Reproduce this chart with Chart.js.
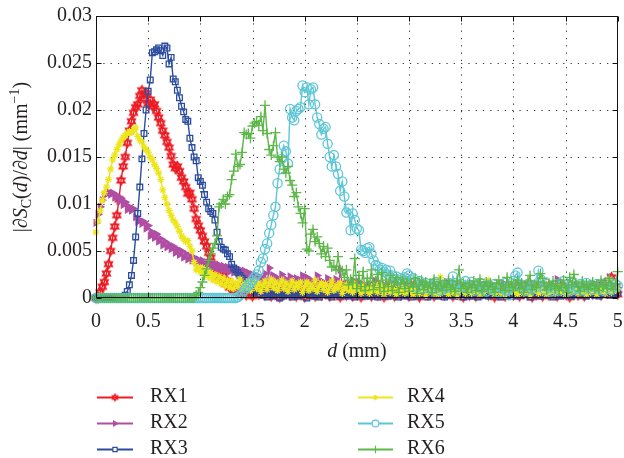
<!DOCTYPE html>
<html>
<head>
<meta charset="utf-8">
<script src="https://cdn.jsdelivr.net/npm/chart.js@4/dist/chart.umd.min.js"></script>
<style>
html,body{margin:0;padding:0;background:#fff;}
#wrap{width:624px;height:458px;position:relative;}
</style>
</head>
<body>
<div id="wrap"><canvas id="c" width="624" height="458"></canvas></div>
<script>
// ---- data (d sampled every 0.02 mm, 0..5) ----
const seriesNames = ['RX1', 'RX2', 'RX3', 'RX4', 'RX5', 'RX6'];
const xTickLabels = ['0', '0.5', '1', '1.5', '2', '2.5', '3', '3.5', '4', '4.5', '5'];
const yTickLabels = ['0', '0.005', '0.01', '0.015', '0.02', '0.025', '0.03'];
const dGrid = Array.from({length: 251}, (_, i) => i * 2 / 100);

const rx1 = [
0, 0, 0.0006, 0.0012, 0.0017, 0.0026, 0.0036, 0.0050, 0.0064, 0.0076,
0.0088, 0.0105, 0.0125, 0.0140, 0.0150, 0.0165, 0.0178, 0.0188, 0.0197, 0.0203,
0.0206, 0.0215, 0.0221, 0.0212, 0.0218, 0.0207, 0.0211, 0.0204, 0.0206, 0.0199,
0.0192, 0.0186, 0.0178, 0.0173, 0.0166, 0.0160, 0.0151, 0.0142, 0.0138, 0.0140,
0.0135, 0.0128, 0.0124, 0.0118, 0.0111, 0.0112, 0.0105, 0.0095, 0.0084, 0.0077,
0.0072, 0.0066, 0.0060, 0.0055, 0.0048, 0.0043, 0.0036, 0.0031, 0.0027, 0.0022,
0.0019, 0.0024, 0.0015, 0.0018, 0.0011, 0.0014, 0.0008, 0.0012, 0.0006, 0.0010,
0.0004, 0.0009, 0.0003, 0.0011, 0.0005, 0.0002, 0.0008, 0.0012, 0.0004, 0.0007,
0.0010, 0.0003, 0.0006, 0.0013, 0.0002, 0.0008, 0.0005, 0.0011, 0.0001, 0.0007,
0.0004, 0.0009, 0.0014, 0.0003, 0.0006, 0.0010, 0.0002, 0.0008, 0.0012, 0.0005,
0.0001, 0.0007, 0.0011, 0.0004, 0.0009, 0.0002, 0.0013, 0.0006, 0.0003, 0.0010,
0.0005, 0.0012, 0.0002, 0.0008, 0.0004, 0.0011, 0.0006, 0.0001, 0.0009, 0.0014,
0.0003, 0.0007, 0.0010, 0.0002, 0.0012, 0.0005, 0.0008, 0.0001, 0.0006, 0.0011,
0.0004, 0.0009, 0.0002, 0.0013, 0.0006, 0.0003, 0.0010, 0.0007, 0.0001, 0.0008,
0.0012, 0.0004, 0.0006, 0.0002, 0.0009, 0.0011, 0.0003, 0.0007, 0.0005, 0.0010,
0.0002, 0.0008, 0.0013, 0.0004, 0.0006, 0.0001, 0.0009, 0.0005, 0.0011, 0.0003,
0.0007, 0.0010, 0.0002, 0.0006, 0.0012, 0.0004, 0.0008, 0.0003, 0.0009, 0.0005,
0.0011, 0.0002, 0.0007, 0.0004, 0.0010, 0.0006, 0.0001, 0.0008, 0.0013, 0.0003,
0.0005, 0.0009, 0.0002, 0.0011, 0.0006, 0.0004, 0.0008, 0.0012, 0.0003, 0.0007,
0.0010, 0.0001, 0.0006, 0.0009, 0.0004, 0.0012, 0.0002, 0.0007, 0.0005, 0.0011,
0.0003, 0.0008, 0.0006, 0.0002, 0.0010, 0.0005, 0.0013, 0.0004, 0.0007, 0.0001,
0.0009, 0.0004, 0.0011, 0.0006, 0.0002, 0.0008, 0.0012, 0.0003, 0.0010, 0.0005,
0.0007, 0.0002, 0.0009, 0.0014, 0.0004, 0.0006, 0.0011, 0.0001, 0.0008, 0.0005,
0.0010, 0.0003, 0.0007, 0.0012, 0.0002, 0.0009, 0.0005, 0.0011, 0.0004, 0.0008,
0.0006, 0.0013, 0.0003, 0.0009, 0.0016, 0.0005, 0.0010, 0.0022, 0.0007, 0.0012,
0.0004];

const rx2 = [
0.0080, 0.0089, 0.0097, 0.0104, 0.0109, 0.0112, 0.0113, 0.0110, 0.0112, 0.0107,
0.0109, 0.0103, 0.0106, 0.0099, 0.0102, 0.0094, 0.0097, 0.0093, 0.0095, 0.0086,
0.0081, 0.0083, 0.0079, 0.0081, 0.0074, 0.0077, 0.0066, 0.0070, 0.0064, 0.0068,
0.0060, 0.0063, 0.0056, 0.0060, 0.0054, 0.0057, 0.0052, 0.0055, 0.0048, 0.0052,
0.0046, 0.0050, 0.0043, 0.0047, 0.0041, 0.0045, 0.0040, 0.0043, 0.0038, 0.0041,
0.0037, 0.0040, 0.0035, 0.0038, 0.0034, 0.0037, 0.0032, 0.0036, 0.0031, 0.0035,
0.0030, 0.0034, 0.0029, 0.0033, 0.0028, 0.0032, 0.0027, 0.0031, 0.0026, 0.0030,
0.0025, 0.0029, 0.0022, 0.0027, 0.0020, 0.0025, 0.0018, 0.0024, 0.0016, 0.0022,
0.0019, 0.0026, 0.0015, 0.0032, 0.0018, 0.0024, 0.0013, 0.0021, 0.0017, 0.0025,
0.0012, 0.0020, 0.0016, 0.0023, 0.0010, 0.0018, 0.0021, 0.0014, 0.0019, 0.0024,
0.0017, 0.0022, 0.0013, 0.0019, 0.0010, 0.0016, 0.0024, 0.0012, 0.0018, 0.0009,
0.0015, 0.0021, 0.0011, 0.0017, 0.0013, 0.0020, 0.0008, 0.0030, 0.0014, 0.0010,
0.0016, 0.0008, 0.0013, 0.0019, 0.0007, 0.0012, 0.0017, 0.0010, 0.0014, 0.0006,
0.0011, 0.0015, 0.0008, 0.0013, 0.0018, 0.0009, 0.0012, 0.0006, 0.0014, 0.0010,
0.0007, 0.0013, 0.0009, 0.0016, 0.0011, 0.0006, 0.0012, 0.0008, 0.0015, 0.0010,
0.0013, 0.0007, 0.0011, 0.0005, 0.0014, 0.0009, 0.0016, 0.0008, 0.0012, 0.0006,
0.0010, 0.0015, 0.0007, 0.0012, 0.0009, 0.0013, 0.0006, 0.0011, 0.0017, 0.0008,
0.0012, 0.0006, 0.0010, 0.0014, 0.0008, 0.0011, 0.0005, 0.0013, 0.0009, 0.0007,
0.0011, 0.0015, 0.0008, 0.0012, 0.0006, 0.0010, 0.0014, 0.0009, 0.0007, 0.0012,
0.0008, 0.0013, 0.0010, 0.0006, 0.0011, 0.0016, 0.0009, 0.0012, 0.0007, 0.0010,
0.0013, 0.0008, 0.0011, 0.0006, 0.0014, 0.0009, 0.0012, 0.0007, 0.0010, 0.0015,
0.0009, 0.0012, 0.0006, 0.0010, 0.0013, 0.0008, 0.0011, 0.0005, 0.0014, 0.0009,
0.0012, 0.0020, 0.0008, 0.0011, 0.0007, 0.0013, 0.0009, 0.0012, 0.0006, 0.0010,
0.0014, 0.0008, 0.0011, 0.0007, 0.0012, 0.0009, 0.0013, 0.0006, 0.0010, 0.0015,
0.0009, 0.0012, 0.0007, 0.0011, 0.0014, 0.0008, 0.0022, 0.0010, 0.0013, 0.0009,
0.0011];

const rx3 = [
0, 0, 0, 0, 0, 0, 0, 0, 0, 0,
0, 0, 0, 0, 0.0003, 0.0007, 0.0014, 0.0024, 0.0040, 0.0065,
0.0090, 0.0118, 0.0148, 0.0175, 0.0200, 0.0220, 0.0232, 0.0261, 0.0262, 0.0264,
0.0266, 0.0263, 0.0258, 0.0268, 0.0266, 0.0249, 0.0256, 0.0233, 0.0230, 0.0221,
0.0213, 0.0204, 0.0198, 0.0190, 0.0188, 0.0170, 0.0160, 0.0150, 0.0146, 0.0128,
0.0124, 0.0120, 0.0110, 0.0102, 0.0095, 0.0092, 0.0090, 0.0083, 0.0070, 0.0060,
0.0054, 0.0052, 0.0051, 0.0047, 0.0044, 0.0036, 0.0032, 0.0030, 0.0027, 0.0024,
0.0021, 0.0019, 0.0016, 0.0013, 0.0011, 0.0009, 0.0006, 0.0008, 0.0004, 0.0007,
0.0003, 0.0006, 0.0001, 0.0005, 0.0008, 0.0002, 0.0004, 0.0007, 0, 0.0005,
0.0002, 0.0006, 0.0004, 0.0009, 0.0001, 0.0003, 0.0007, 0.0002, 0.0005, 0.0008,
0.0004, 0, 0.0006, 0.0003, 0.0008, 0.0002, 0.0005, 0.0001, 0.0007, 0.0004,
0.0009, 0.0003, 0.0005, 0.0001, 0.0006, 0.0004, 0.0008, 0.0002, 0.0005, 0.0003,
0.0006, 0.0002, 0.0008, 0.0004, 0.0001, 0.0007, 0.0003, 0.0005, 0.0009, 0.0002,
0.0005, 0.0007, 0.0002, 0.0004, 0.0008, 0.0001, 0.0006, 0.0003, 0.0005, 0.0007,
0.0002, 0.0005, 0.0009, 0.0003, 0.0006, 0.0001, 0.0004, 0.0008, 0.0002, 0.0006,
0.0004, 0.0001, 0.0007, 0.0005, 0.0002, 0.0008, 0.0003, 0.0006, 0.0004, 0.0001,
0.0007, 0.0003, 0.0005, 0.0009, 0.0002, 0.0004, 0.0006, 0.0001, 0.0008, 0.0003,
0.0005, 0.0008, 0.0002, 0.0006, 0.0004, 0.0007, 0.0001, 0.0005, 0.0003, 0.0009,
0.0002, 0.0006, 0.0004, 0.0001, 0.0007, 0.0003, 0.0008, 0.0005, 0.0002, 0.0006,
0.0004, 0.0009, 0.0003, 0.0006, 0.0001, 0.0005, 0.0007, 0.0002, 0.0008, 0.0004,
0.0006, 0.0002, 0.0005, 0.0008, 0.0003, 0.0010, 0.0004, 0.0006, 0.0001, 0.0007,
0.0003, 0.0008, 0.0005, 0.0002, 0.0006, 0.0004, 0.0009, 0.0003, 0.0005, 0.0001,
0.0007, 0.0004, 0.0002, 0.0008, 0.0005, 0.0003, 0.0006, 0.0010, 0.0002, 0.0005,
0.0004, 0.0007, 0.0003, 0.0006, 0.0009, 0.0002, 0.0005, 0.0004, 0.0008, 0.0003,
0.0006, 0.0002, 0.0009, 0.0004, 0.0007, 0.0011, 0.0003, 0.0006, 0.0004, 0.0008,
0.0005];

const rx4 = [
0.0070, 0.0082, 0.0093, 0.0104, 0.0112, 0.0118, 0.0126, 0.0137, 0.0147, 0.0152,
0.0158, 0.0163, 0.0167, 0.0171, 0.0173, 0.0175, 0.0177, 0.0176, 0.0179, 0.0181,
0.0172, 0.0168, 0.0166, 0.0161, 0.0158, 0.0155, 0.0150, 0.0147, 0.0142, 0.0138,
0.0133, 0.0126, 0.0115, 0.0107, 0.0100, 0.0093, 0.0088, 0.0083, 0.0080, 0.0076,
0.0071, 0.0066, 0.0063, 0.0060, 0.0061, 0.0055, 0.0050, 0.0038, 0.0030, 0.0033,
0.0028, 0.0032, 0.0025, 0.0030, 0.0022, 0.0027, 0.0019, 0.0025, 0.0017, 0.0023,
0.0015, 0.0021, 0.0013, 0.0019, 0.0011, 0.0018, 0.0010, 0.0016, 0.0012, 0.0020,
0.0009, 0.0015, 0.0011, 0.0018, 0.0008, 0.0014, 0.0019, 0.0010, 0.0016, 0.0007,
0.0013, 0.0018, 0.0009, 0.0015, 0.0020, 0.0011, 0.0017, 0.0008, 0.0014, 0.0019,
0.0010, 0.0016, 0.0007, 0.0013, 0.0018, 0.0009, 0.0015, 0.0011, 0.0017, 0.0006,
0.0012, 0.0017, 0.0008, 0.0014, 0.0010, 0.0019, 0.0007, 0.0013, 0.0016, 0.0009,
0.0015, 0.0006, 0.0012, 0.0018, 0.0008, 0.0013, 0.0010, 0.0016, 0.0005, 0.0011,
0.0014, 0.0008, 0.0012, 0.0006, 0.0015, 0.0009, 0.0011, 0.0005, 0.0013, 0.0008,
0.0010, 0.0005, 0.0012, 0.0008, 0.0014, 0.0006, 0.0010, 0.0013, 0.0004, 0.0009,
0.0011, 0.0006, 0.0013, 0.0008, 0.0004, 0.0010, 0.0007, 0.0012, 0.0005, 0.0009,
0.0006, 0.0011, 0.0004, 0.0009, 0.0013, 0.0005, 0.0008, 0.0011, 0.0003, 0.0010,
0.0007, 0.0012, 0.0005, 0.0009, 0.0004, 0.0022, 0.0006, 0.0013, 0.0008, 0.0004,
0.0010, 0.0006, 0.0012, 0.0003, 0.0009, 0.0007, 0.0011, 0.0005, 0.0014, 0.0008,
0.0005, 0.0010, 0.0007, 0.0013, 0.0004, 0.0009, 0.0006, 0.0011, 0.0019, 0.0007,
0.0010, 0.0004, 0.0008, 0.0012, 0.0005, 0.0009, 0.0003, 0.0011, 0.0007, 0.0013,
0.0006, 0.0010, 0.0004, 0.0008, 0.0012, 0.0005, 0.0009, 0.0007, 0.0003, 0.0011,
0.0008, 0.0013, 0.0005, 0.0009, 0.0006, 0.0011, 0.0004, 0.0010, 0.0007, 0.0012,
0.0005, 0.0009, 0.0013, 0.0006, 0.0010, 0.0004, 0.0008, 0.0011, 0.0006, 0.0009,
0.0012, 0.0005, 0.0010, 0.0007, 0.0013, 0.0004, 0.0009, 0.0006, 0.0011, 0.0008,
0.0004, 0.0010, 0.0007, 0.0012, 0.0005, 0.0009, 0.0020, 0.0006, 0.0011, 0.0008,
0.0010];

const rx5 = [
0, 0, 0, 0, 0, 0, 0, 0, 0, 0,
0, 0, 0, 0, 0, 0, 0, 0, 0, 0,
0, 0, 0, 0, 0, 0, 0, 0, 0, 0,
0, 0, 0, 0, 0, 0, 0, 0, 0, 0,
0, 0, 0, 0, 0, 0, 0, 0, 0, 0,
0, 0, 0, 0, 0, 0, 0, 0, 0, 0,
0, 0, 0, 0, 0, 0, 0, 0, 0.0001, 0.0003,
0.0005, 0.0008, 0.0011, 0.0013, 0.0016, 0.0019, 0.0022, 0.0025, 0.0029, 0.0038,
0.0042, 0.0052, 0.0058, 0.0069, 0.0078, 0.0088, 0.0097, 0.0122, 0.0137, 0.0148,
0.0162, 0.0156, 0.0143, 0.0201, 0.0192, 0.0189, 0.0199, 0.0201, 0.0203, 0.0226,
0.0219, 0.0224, 0.0206, 0.0222, 0.0224, 0.0206, 0.0192, 0.0185, 0.0174, 0.0180,
0.0182, 0.0164, 0.0150, 0.0140, 0.0152, 0.0140, 0.0132, 0.0114, 0.0124, 0.0108,
0.0091, 0.0095, 0.0072, 0.0090, 0.0083, 0.0074, 0.0072, 0.0051, 0.0050, 0.0048,
0.0053, 0.0054, 0.0047, 0.0040, 0.0035, 0.0034, 0.0030, 0.0032, 0.0028, 0.0030,
0.0025, 0.0029, 0.0024, 0.0020, 0.0023, 0.0019, 0.0021, 0.0017, 0.0022, 0.0026,
0.0024, 0.0019, 0.0021, 0.0016, 0.0012, 0.0018, 0.0014, 0.0010, 0.0016, 0.0012,
0.0015, 0.0009, 0.0013, 0.0017, 0.0011, 0.0008, 0.0014, 0.0010, 0.0012, 0.0016,
0.0011, 0.0023, 0.0016, 0.0013, 0.0009, 0.0015, 0.0012, 0.0018, 0.0010, 0.0014,
0.0017, 0.0011, 0.0008, 0.0013, 0.0016, 0.0010, 0.0012, 0.0007, 0.0014, 0.0011,
0.0009, 0.0015, 0.0012, 0.0006, 0.0013, 0.0010, 0.0016, 0.0008, 0.0003, 0.0011,
0.0018, 0.0024, 0.0027, 0.0014, 0.0010, 0.0013, 0.0008, 0.0015, 0.0011, 0.0009,
0.0014, 0.0012, 0.0029, 0.0020, 0.0013, 0.0009, 0.0015, 0.0011, 0.0007, 0.0013,
0.0010, 0.0015, 0.0008, 0.0014, 0.0018, 0.0011, 0.0007, 0.0012, 0.0016, 0.0009,
0.0013, 0.0010, 0.0015, 0.0008, 0.0012, 0.0016, 0.0011, 0.0014, 0.0009, 0.0012,
0.0015, 0.0010, 0.0013, 0.0008, 0.0016, 0.0011, 0.0014, 0.0009, 0.0012, 0.0015,
0.0013];

const rx6 = [
0, 0, 0, 0, 0, 0, 0, 0, 0, 0,
0, 0, 0, 0, 0, 0, 0, 0, 0, 0,
0, 0, 0, 0, 0, 0, 0, 0, 0, 0,
0, 0, 0, 0, 0, 0, 0, 0, 0, 0,
0, 0, 0, 0, 0, 0, 0, 0, 0.0003, 0.0006,
0.0011, 0.0017, 0.0024, 0.0031, 0.0040, 0.0047, 0.0053, 0.0058, 0.0066, 0.0097,
0.0100, 0.0105, 0.0100, 0.0108, 0.0110, 0.0126, 0.0135, 0.0153, 0.0140, 0.0142,
0.0155, 0.0176, 0.0174, 0.0175, 0.0170, 0.0183, 0.0186, 0.0188, 0.0184, 0.0193,
0.0178, 0.0205, 0.0175, 0.0158, 0.0152, 0.0162, 0.0176, 0.0150, 0.0145, 0.0150,
0.0137, 0.0133, 0.0140, 0.0125, 0.0120, 0.0108, 0.0112, 0.0097, 0.0090, 0.0080,
0.0095, 0.0052, 0.0050, 0.0068, 0.0073, 0.0060, 0.0065, 0.0058, 0.0047, 0.0055,
0.0044, 0.0053, 0.0040, 0.0033, 0.0034, 0.0030, 0.0044, 0.0030, 0.0029, 0.0022,
0.0030, 0.0014, 0.0020, 0.0016, 0.0042, 0.0010, 0.0024, 0.0012, 0.0028, 0.0008,
0.0021, 0.0013, 0.0030, 0.0009, 0.0018, 0.0025, 0.0011, 0.0027, 0.0007, 0.0019,
0.0012, 0.0024, 0.0008, 0.0017, 0.0022, 0.0006, 0.0015, 0.0020, 0.0010, 0.0018,
0.0007, 0.0016, 0.0012, 0.0021, 0.0005, 0.0014, 0.0019, 0.0009, 0.0017, 0.0011,
0.0015, 0.0006, 0.0020, 0.0010, 0.0013, 0.0018, 0.0008, 0.0016, 0.0011, 0.0019,
0.0009, 0.0014, 0.0007, 0.0018, 0.0030, 0.0010, 0.0016, 0.0012, 0.0006, 0.0015,
0.0011, 0.0018, 0.0008, 0.0014, 0.0020, 0.0007, 0.0013, 0.0017, 0.0009, 0.0016,
0.0012, 0.0006, 0.0015, 0.0019, 0.0010, 0.0014, 0.0008, 0.0022, 0.0011, 0.0017,
0.0008, 0.0015, 0.0019, 0.0010, 0.0016, 0.0006, 0.0013, 0.0018, 0.0024, 0.0009,
0.0014, 0.0011, 0.0017, 0.0026, 0.0021, 0.0013, 0.0009, 0.0016, 0.0012, 0.0018,
0.0010, 0.0015, 0.0008, 0.0013, 0.0019, 0.0011, 0.0006, 0.0022, 0.0014, 0.0025,
0.0016, 0.0012, 0.0007, 0.0018, 0.0011, 0.0015, 0.0009, 0.0013, 0.0017, 0.0010,
0.0014, 0.0008, 0.0019, 0.0012, 0.0016, 0.0010, 0.0021, 0.0013, 0.0009, 0.0015,
0.0028];

// ---- styles ----
const TXT = '#231f20';
const FONT = '"Liberation Serif", "Times New Roman", serif';
const colors = ['#ec1c24', '#b04ea4', '#2b4c9f', '#ede61c', '#5dc6d6', '#5db749'];

function hexagram(color, r, lw) {
  const s = Math.ceil(2 * r + 3);
  const c = document.createElement('canvas');
  c.width = s; c.height = s;
  const g = c.getContext('2d');
  g.strokeStyle = color; g.lineWidth = lw; g.lineJoin = 'miter';
  const cx = s / 2, cy = s / 2;
  [-Math.PI / 2, Math.PI / 2].forEach(rot => {
    g.beginPath();
    for (let k = 0; k < 3; k++) {
      const a = rot + k * 2 * Math.PI / 3;
      const px = cx + r * Math.cos(a), py = cy + r * Math.sin(a);
      if (k) g.lineTo(px, py); else g.moveTo(px, py);
    }
    g.closePath();
    g.stroke();
  });
  return c;
}
const starImg = hexagram(colors[0], 4.6, 1.4);
const starImgSmall = hexagram(colors[0], 3.2, 1.3);

const pointCfg = [
  {pointStyle: starImg, radius: 4.5, rotation: 0, fill: false},
  {pointStyle: 'triangle', radius: 3.6, rotation: 90, fill: true},
  {pointStyle: 'rect', radius: 4.0, rotation: 0, fill: false},
  {pointStyle: 'star', radius: 3.6, rotation: 0, fill: false},
  {pointStyle: 'circle', radius: 4.6, rotation: 0, fill: false},
  {pointStyle: 'cross', radius: 5.0, rotation: 0, fill: false}
];
const allSeries = [rx1, rx2, rx3, rx4, rx5, rx6];

const datasets = allSeries.map((vals, k) => ({
  label: seriesNames[k],
  data: vals.map((v, i) => ({x: dGrid[i], y: v})),
  borderColor: colors[k],
  backgroundColor: colors[k],
  borderWidth: 1.4,
  pointStyle: pointCfg[k].pointStyle,
  pointRadius: pointCfg[k].radius,
  pointRotation: pointCfg[k].rotation,
  pointBorderColor: colors[k],
  pointBackgroundColor: pointCfg[k].fill ? colors[k] : 'rgba(0,0,0,0)',
  pointBorderWidth: 1.3,
  tension: 0,
  clip: 8,
  order: 5 - k
}));

// ---- decorations: grid, frame, titles, legend ----
function drawRuns(ctx, runs, size) {
  let w = 0;
  const items = runs.map(r => {
    const fs = (r.sub || r.sup) ? Math.round(size * 0.7) : size;
    const f = (r.i ? 'italic ' : '') + fs + 'px ' + FONT;
    ctx.font = f;
    const wd = ctx.measureText(r.t).width;
    const it = {t: r.t, f, x: w, dy: r.sub ? size * 0.28 : (r.sup ? -size * 0.35 : 0)};
    w += wd;
    return it;
  });
  items.forEach(it => {
    ctx.font = it.f;
    ctx.fillText(it.t, it.x - w / 2, it.dy);
  });
}

const deco = {
  id: 'deco',
  beforeDatasetsDraw(chart) {
    const {ctx, chartArea: a, scales: {x, y}} = chart;
    ctx.save();
    ctx.strokeStyle = '#3a3a3a';
    ctx.lineWidth = 1;
    ctx.setLineDash([1.3, 6]);
    x.ticks.forEach(t => {
      const px = Math.round(x.getPixelForValue(t.value)) + 0.5;
      if (px <= a.left + 1 || px >= a.right - 1) return;
      ctx.beginPath(); ctx.moveTo(px, a.top); ctx.lineTo(px, a.bottom); ctx.stroke();
    });
    y.ticks.forEach(t => {
      const py = Math.round(y.getPixelForValue(t.value)) + 0.5;
      if (py <= a.top + 1 || py >= a.bottom - 1) return;
      ctx.beginPath(); ctx.moveTo(a.left, py); ctx.lineTo(a.right, py); ctx.stroke();
    });
    ctx.restore();
  },
  afterDatasetsDraw(chart) {
    const {ctx, chartArea: a, scales: {x, y}} = chart;
    ctx.save();
    ctx.strokeStyle = '#111';
    ctx.lineWidth = 1;
    const L = Math.round(a.left) + 0.5, R = Math.round(a.right) - 0.5;
    const T = Math.round(a.top) + 0.5, B = Math.round(a.bottom) - 0.5;
    ctx.strokeRect(L, T, R - L, B - T);
    const tl = 5;
    ctx.beginPath();
    x.ticks.forEach(t => {
      const px = Math.round(x.getPixelForValue(t.value)) + 0.5;
      ctx.moveTo(px, B); ctx.lineTo(px, B - tl);
      ctx.moveTo(px, T); ctx.lineTo(px, T + tl);
    });
    y.ticks.forEach(t => {
      const py = Math.round(y.getPixelForValue(t.value)) + 0.5;
      ctx.moveTo(L, py); ctx.lineTo(L + tl, py);
      ctx.moveTo(R, py); ctx.lineTo(R - tl, py);
    });
    ctx.stroke();
    ctx.restore();
  },
  afterDraw(chart) {
    const {ctx, chartArea: a} = chart;
    ctx.save();
    ctx.fillStyle = TXT;
    ctx.textBaseline = 'middle';
    ctx.textAlign = 'left';
    // x title
    ctx.save();
    ctx.translate((a.left + a.right) / 2, 352);
    drawRuns(ctx, [{t: 'd', i: 1}, {t: ' (mm)'}], 20);
    ctx.restore();
    // y title
    ctx.save();
    ctx.translate(22, (a.top + a.bottom) / 2);
    ctx.rotate(-Math.PI / 2);
    drawRuns(ctx, [
      {t: '|∂'}, {t: 'S', i: 1}, {t: 'C', sub: 1}, {t: '('}, {t: 'd', i: 1},
      {t: ')/∂'}, {t: 'd', i: 1}, {t: '| (mm'}, {t: '−1', sup: 1}, {t: ')'}
    ], 20);
    ctx.restore();
    // legend (two columns)
    const cols = [{x0: 97, x1: 133, tx: 150}, {x0: 358, x1: 393, tx: 407}];
    const rows = [397, 423, 449];
    seriesNames.forEach((name, k) => {
      const col = cols[Math.floor(k / 3)], yy = rows[k % 3];
      ctx.strokeStyle = colors[k];
      ctx.lineWidth = 2;
      ctx.beginPath(); ctx.moveTo(col.x0, yy + 0.5); ctx.lineTo(col.x1, yy + 0.5); ctx.stroke();
      const cx = (col.x0 + col.x1) / 2;
      if (k === 0) {
        ctx.drawImage(starImgSmall, cx - starImgSmall.width / 2, yy + 0.5 - starImgSmall.height / 2);
      } else if (Chart.helpers && Chart.helpers.drawPoint) {
        ctx.fillStyle = pointCfg[k].fill ? colors[k] : '#fff';
        ctx.strokeStyle = colors[k];
        ctx.lineWidth = 1.2;
        Chart.helpers.drawPoint(ctx, {pointStyle: pointCfg[k].pointStyle, rotation: pointCfg[k].rotation,
          radius: pointCfg[k].radius * 0.75, borderWidth: 1.2}, cx, yy + 0.5);
      }
      ctx.fillStyle = TXT;
      ctx.font = '20px ' + FONT;
      ctx.fillText(name, col.tx, yy);
    });
    ctx.restore();
  }
};

new Chart(document.getElementById('c'), {
  type: 'line',
  data: {datasets},
  options: {
    responsive: false,
    animation: false,
    events: [],
    layout: {padding: {top: 16, left: 0, right: 5, bottom: 0}},
    plugins: {legend: {display: false}, tooltip: {enabled: false}, title: {display: false}},
    scales: {
      x: {
        type: 'linear', min: 0, max: 5,
        grid: {display: false, drawTicks: false},
        border: {display: false},
        ticks: {stepSize: 0.5, padding: 12, color: TXT, font: {family: FONT, size: 20},
          maxRotation: 0, autoSkip: false,
          callback: (v, i) => xTickLabels[i]},
        afterFit: s => { s.height = 160; s.paddingRight = 0; s.paddingLeft = 0; }
      },
      y: {
        type: 'linear', min: 0, max: 0.03,
        grid: {display: false, drawTicks: false},
        border: {display: false},
        ticks: {stepSize: 0.005, padding: 4, color: TXT, font: {family: FONT, size: 20},
          autoSkip: false,
          callback: (v, i) => yTickLabels[i]},
        afterFit: s => { s.width = 96; s.paddingTop = 0; s.paddingBottom = 0; }
      }
    }
  },
  plugins: [deco]
});
</script>
</body>
</html>
